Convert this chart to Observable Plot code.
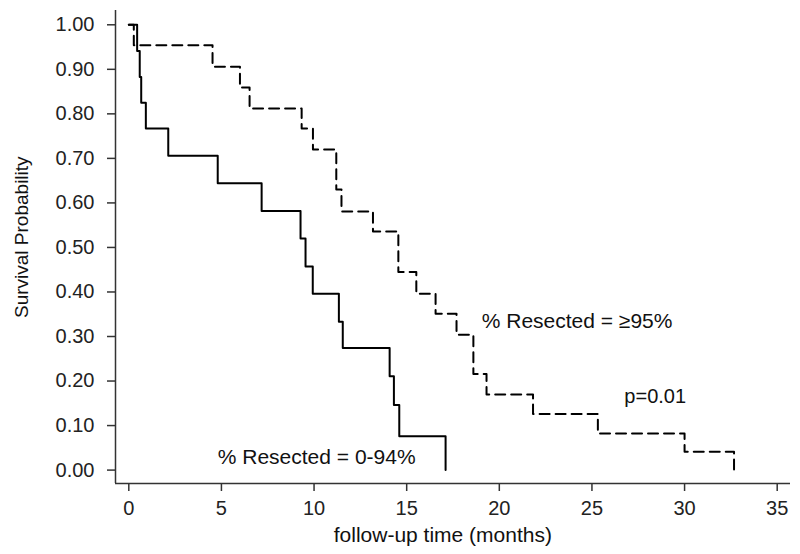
<!DOCTYPE html>
<html>
<head>
<meta charset="utf-8">
<script src="https://cdn.jsdelivr.net/npm/d3@7"></script>
<script src="https://cdn.jsdelivr.net/npm/@observablehq/plot@0.6"></script>
<style>
  html, body { margin: 0; padding: 0; background: #fff; }
  #chart svg { display: block; }
</style>
</head>
<body>
<div id="chart"></div>
<script>
// Group "% Resected = 0-94%" (solid)
const lowTimes = [0, 0.45, 0.59, 0.67, 0.92, 2.13, 4.8, 7.17, 9.27, 9.54, 9.93, 11.34, 11.55, 14.08, 14.31, 14.6, 17.1];
const lowSurv  = [1, 0.941, 0.883, 0.825, 0.767, 0.706, 0.644, 0.582, 0.52, 0.457, 0.396, 0.333, 0.274, 0.211, 0.146, 0.076, 0];

// Group "% Resected = ≥95%" (dashed)
const highTimes = [0, 0.27, 4.52, 6.0, 6.52, 9.33, 9.94, 11.2, 11.48, 13.18, 14.55, 15.52, 16.56, 17.69, 18.6, 19.31, 21.82, 25.32, 30.0, 32.67];
const highSurv  = [1, 0.954, 0.906, 0.859, 0.812, 0.767, 0.72, 0.63, 0.581, 0.536, 0.445, 0.396, 0.351, 0.304, 0.216, 0.17, 0.126, 0.082, 0.041, 0];

const xTicks = [0, 5, 10, 15, 20, 25, 30, 35];
const yTicks = [0, 0.1, 0.2, 0.3, 0.4, 0.5, 0.6, 0.7, 0.8, 0.9, 1.0];

const xLabel = "follow-up time (months)";
const yLabel = "Survival Probability";
const labelLow = "% Resected = 0-94%";
const labelHigh = "% Resected = ≥95%";
const pLabel = "p=0.01";

const lowData = lowTimes.map((t, i) => ({t, s: lowSurv[i]}));
const highData = highTimes.map((t, i) => ({t, s: highSurv[i]}));

const xDomain = [-0.718, 35.718];
const yDomain = [-0.0301, 1.0321];
const font = "'Liberation Sans', Arial, Helvetica, sans-serif";

const chart = Plot.plot({
  width: 800,
  height: 554,
  marginLeft: 115,
  marginRight: 10,
  marginTop: 10,
  marginBottom: 71,
  style: {fontFamily: font, fontSize: "20px", color: "#222", background: "#fff"},
  x: {domain: xDomain},
  y: {domain: yDomain},
  marks: [
    Plot.axisX({ticks: xTicks, tickFormat: d3.format("d"), tickSize: 8, tickPadding: 9, fontSize: 20, label: null, stroke: "#333", strokeWidth: 1.5}),
    Plot.axisY({ticks: yTicks, tickFormat: d3.format(".2f"), tickSize: 8, tickPadding: 13, fontSize: 20, label: null, stroke: "#333", strokeWidth: 1.5}),
    Plot.ruleX([xDomain[0]], {stroke: "#333", strokeWidth: 1.5}),
    Plot.ruleY([yDomain[0]], {stroke: "#333", strokeWidth: 1.5}),
    Plot.line(highData, {x: "t", y: "s", curve: "step-after", stroke: "#000", strokeWidth: 2, strokeDasharray: "10,6"}),
    Plot.line(lowData, {x: "t", y: "s", curve: "step-after", stroke: "#000", strokeWidth: 2}),
    Plot.text([labelHigh], {x: () => 19.05, y: () => 0.334, text: d => d, textAnchor: "start", lineAnchor: "middle", fontSize: 21, fill: "#111"}),
    Plot.text([labelLow], {x: () => 4.8, y: () => 0.028, text: d => d, textAnchor: "start", lineAnchor: "middle", fontSize: 21, fill: "#111"}),
    Plot.text([pLabel], {x: () => 26.75, y: () => 0.166, text: d => d, textAnchor: "start", lineAnchor: "middle", fontSize: 20, fill: "#111"}),
    Plot.text([xLabel], {x: () => 16.95, frameAnchor: "bottom", dy: 51.6, text: d => d, textAnchor: "middle", lineAnchor: "middle", fontSize: 21, fill: "#111"}),
    Plot.text([yLabel], {x: () => xDomain[0], y: () => 0.523, dx: -93.1, rotate: -90, text: d => d, textAnchor: "middle", lineAnchor: "middle", fontSize: 19, fill: "#111"})
  ]
});
document.getElementById("chart").appendChild(chart);
</script>
</body>
</html>
